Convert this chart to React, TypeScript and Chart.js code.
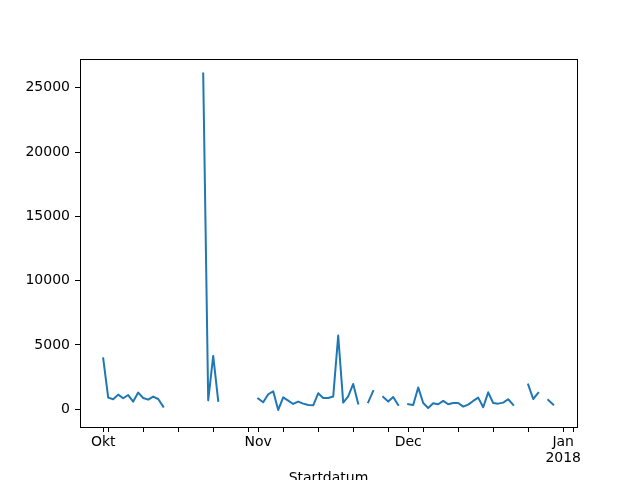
import { useEffect, useRef } from "react";
import { Chart, registerables } from "chart.js";

Chart.register(...registerables);

// daily values, index 0 = 2017-10-01 ... index 90 = 2017-12-30 (null = no data)
const dailyValues: (number | null)[] = [
  // Okt
  3950, 910, 780, 1140, 860, 1110, 600, 1300, 880, 750, 990, 800, 210,
  null, null, null, null, null, null, null,
  26100, 700, 4150, 650,
  null, null, null, null, null, null, null,
  // Nov
  830, 545, 1170, 1400, -50, 930, 680, 415, 600, 440, 340, 310, 1245, 880, 880,
  990, 5740, 520, 1010, 1970, 440, null, 545, 1425, null, 960, 600, 960, 340, null,
  // Dec
  400, 330, 1700, 490, 100, 470, 390, 650, 390, 490, 490, 210, 365, 650, 910,
  155, 1320, 490, 440, 520, 780, 340, null, null, 1920, 800, 1270, null, 725, 365,
];

// month ticks (day index) and labels
const majorTicks = [0, 31, 61, 92];
const majorLabels: (string | string[])[] = ["Okt", "Nov", "Dec", ["Jan", "2018"]];
// weekly (Monday) minor ticks
const minorTicks = [1, 8, 15, 22, 29, 36, 43, 50, 57, 64, 71, 78, 85, 94];
const yTicks = [0, 5000, 10000, 15000, 20000, 25000];

const xMin = -4.64;
const xMax = 94.76;
const yMin = -1376;
const yMax = 27231;

const font = { family: "DejaVu Sans", size: 14, lineHeight: 1.12 };

const framePlugin = {
  id: "frame",
  afterDraw(chart: Chart) {
    const { ctx, chartArea } = chart;
    ctx.save();
    ctx.strokeStyle = "#000";
    ctx.lineWidth = 1;
    ctx.strokeRect(
      Math.round(chartArea.left) + 0.5,
      Math.round(chartArea.top) + 0.5,
      Math.round(chartArea.right - chartArea.left),
      Math.round(chartArea.bottom - chartArea.top)
    );
    ctx.restore();
  },
};

export default function App() {
  const chartRef = useRef<HTMLCanvasElement>(null);
  const chartInstance = useRef<Chart | null>(null);

  useEffect(() => {
    if (!chartRef.current) return;
    if (chartInstance.current) chartInstance.current.destroy();

    const points = dailyValues.map((v, i) => ({ x: i, y: v }));
    const allTicks = [...majorTicks, ...minorTicks.filter((t) => !majorTicks.includes(t))].sort(
      (a, b) => a - b
    );

    chartInstance.current = new Chart(chartRef.current, {
      type: "line",
      data: {
        datasets: [
          {
            data: points as any,
            borderColor: "#1f77b4",
            borderWidth: 2,
            pointRadius: 0,
            tension: 0,
            spanGaps: false,
            borderJoinStyle: "round",
            borderCapStyle: "square",
          },
        ],
      },
      options: {
        animation: false,
        responsive: false,
        devicePixelRatio: 1,
        layout: { padding: { left: 0, top: 59, right: 63, bottom: 0 } },
        plugins: {
          legend: { display: false },
          tooltip: { enabled: false },
        },
        scales: {
          x: {
            type: "linear",
            min: xMin,
            max: xMax,
            offset: false,
            afterBuildTicks: (scale: any) => {
              scale.ticks = allTicks.map((v) => ({ value: v }));
            },
            afterFit: (scale: any) => {
              scale.height = 73;
            },
            grid: {
              drawOnChartArea: false,
              drawTicks: true,
              tickLength: 5,
              tickColor: "#000",
              tickWidth: 1,
            },
            border: { display: true, color: "#000", width: 1 },
            ticks: {
              autoSkip: false,
              maxRotation: 0,
              padding: 3,
              color: "#000",
              font,
              callback: (value: any) => {
                const idx = majorTicks.indexOf(value);
                return idx >= 0 ? majorLabels[idx] : "";
              },
            },
            title: {
              display: true,
              text: "Startdatum",
              color: "#000",
              font: { family: "DejaVu Sans", size: 14, lineHeight: 1.2 },
              padding: { top: 0, bottom: 13 },
            },
          },
          y: {
            type: "linear",
            min: yMin,
            max: yMax,
            afterBuildTicks: (scale: any) => {
              scale.ticks = yTicks.map((v) => ({ value: v }));
            },
            afterFit: (scale: any) => {
              scale.width = 80;
            },
            grid: {
              drawOnChartArea: false,
              drawTicks: true,
              tickLength: 5,
              tickColor: "#000",
              tickWidth: 1,
            },
            border: { display: true, color: "#000", width: 1 },
            ticks: {
              padding: 5,
              color: "#000",
              font,
              callback: (value: any) => String(value),
            },
          },
        },
      },
      plugins: [framePlugin],
    });

    return () => {
      if (chartInstance.current) {
        chartInstance.current.destroy();
        chartInstance.current = null;
      }
    };
  }, []);

  return (
    <div
      style={{
        position: "fixed",
        left: 0,
        top: 0,
        width: 640,
        height: 480,
        overflow: "hidden",
        background: "#fff",
      }}
    >
      <canvas ref={chartRef} width={640} height={500} style={{ display: "block" }}></canvas>
    </div>
  );
}
